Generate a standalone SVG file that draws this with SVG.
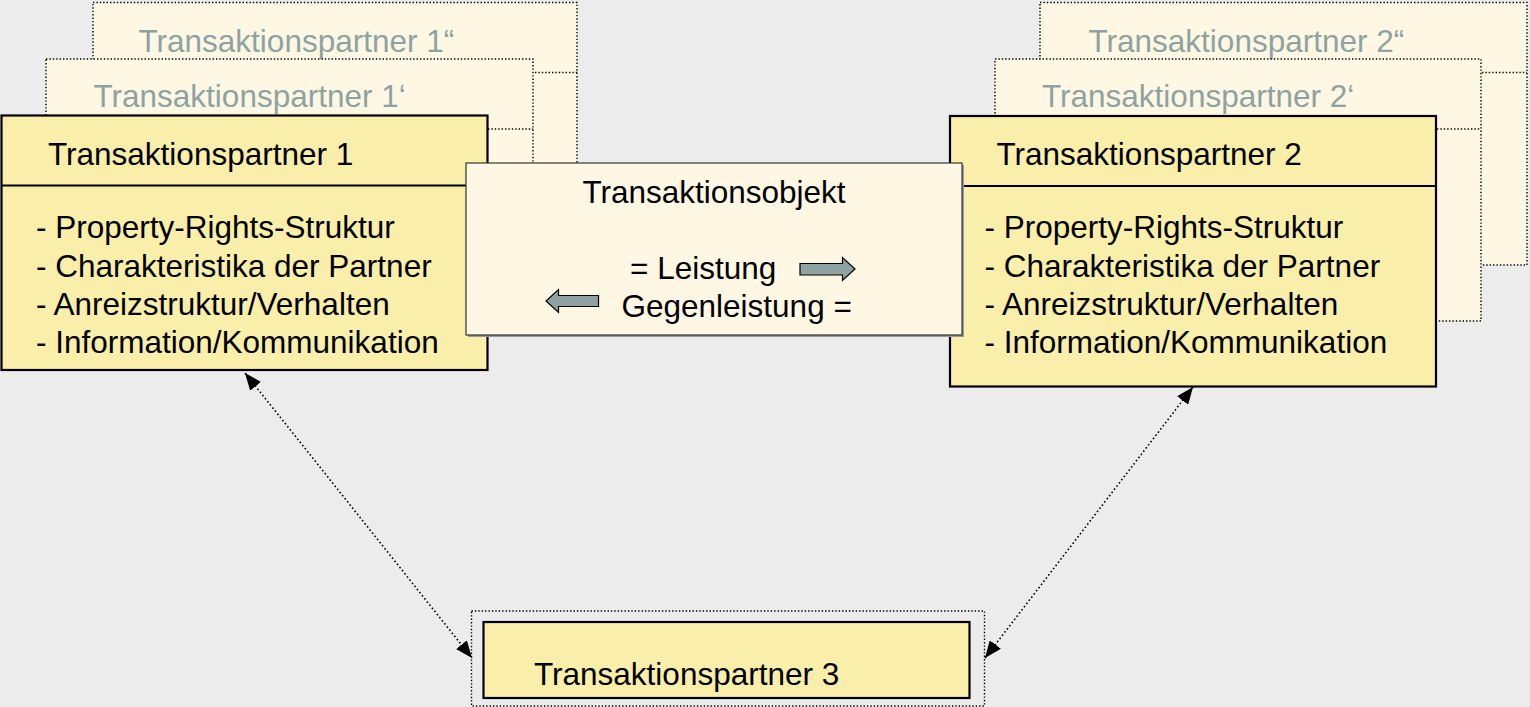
<svg xmlns="http://www.w3.org/2000/svg" width="1530" height="707" viewBox="0 0 1530 707">
<defs>
<style>
text{font-family:"Liberation Sans",Arial,sans-serif;font-size:31.5px;fill:#000}
.ghost{fill:#8EA3A1}
.back{fill:#FEF7E4;stroke:#000;stroke-width:1.4;stroke-dasharray:1.4 2}
.dot{fill:none;stroke:#000;stroke-width:1.4;stroke-dasharray:1.4 2}
.front{fill:#F9EEAA;stroke:#000;stroke-width:2.2}
.div{stroke:#000;stroke-width:2.2}
.obj{fill:#FEF7E4;stroke:#333;stroke-width:1.2}
.blk{fill:#8EA3A1;stroke:#000;stroke-width:1.2}
.conn{fill:none;stroke:#000;stroke-width:1.6;stroke-dasharray:1.6 2.4}
</style>
<marker id="ah" viewBox="0 0 17 14" refX="17" refY="7" markerWidth="17" markerHeight="14" markerUnits="userSpaceOnUse" orient="auto-start-reverse">
<path d="M0,0 L17,7 L0,14 z" fill="#000"/>
</marker>
</defs>
<rect width="1530" height="707" fill="#ECECEC"/>

<g id="partner1-2">
<rect class="back" x="93" y="2.5" width="484" height="262"/>
<line class="dot" x1="93" y1="72.5" x2="577" y2="72.5"/>
<text class="ghost" x="138.5" y="51.5">Transaktionspartner 1“</text>
</g>
<g id="partner1-1">
<rect class="back" x="46" y="59" width="487" height="262"/>
<line class="dot" x1="46" y1="129" x2="533" y2="129"/>
<text class="ghost" x="93.5" y="107">Transaktionspartner 1‘</text>
</g>
<g id="partner1">
<rect class="front" x="1.5" y="115.5" width="486" height="254.5"/>
<line class="div" x1="1.5" y1="185.5" x2="487.5" y2="185.5"/>
<text x="48" y="165">Transaktionspartner 1</text>
<text x="36" y="238">- Property-Rights-Struktur</text>
<text x="36" y="276.5">- Charakteristika der Partner</text>
<text x="36" y="315">- Anreizstruktur/Verhalten</text>
<text x="36" y="353">- Information/Kommunikation</text>
</g>

<g id="partner2-2">
<rect class="back" x="1040" y="2.5" width="487" height="262.5"/>
<line class="dot" x1="1040" y1="72.5" x2="1527" y2="72.5"/>
<text class="ghost" x="1088.5" y="51.5">Transaktionspartner 2“</text>
</g>
<g id="partner2-1">
<rect class="back" x="995" y="59" width="486" height="262"/>
<line class="dot" x1="995" y1="129" x2="1481" y2="129"/>
<text class="ghost" x="1042" y="107">Transaktionspartner 2‘</text>
</g>
<g id="partner2">
<rect class="front" x="950" y="116" width="486" height="270.5"/>
<line class="div" x1="950" y1="186" x2="1436" y2="186"/>
<text x="996.5" y="165">Transaktionspartner 2</text>
<text x="984.5" y="238">- Property-Rights-Struktur</text>
<text x="984.5" y="276.5">- Charakteristika der Partner</text>
<text x="984.5" y="315">- Anreizstruktur/Verhalten</text>
<text x="984.5" y="353">- Information/Kommunikation</text>
</g>

<g id="objekt">
<rect x="468" y="165" width="496" height="172" fill="#9A9A9A"/>
<rect class="obj" x="466" y="163" width="496" height="172"/>
<text x="714" y="203" text-anchor="middle">Transaktionsobjekt</text>
<text x="630" y="279">= Leistung</text>
<text x="621.5" y="316.5">Gegenleistung =</text>
<path class="blk" d="M800,263.5 L842.5,263.5 L842.5,257.5 L855,269 L842.5,280.5 L842.5,275 L800,275 z"/>
<path class="blk" d="M598.5,295.5 L558.5,295.5 L558.5,289.5 L546,301 L558.5,312.5 L558.5,306.5 L598.5,306.5 z"/>
</g>

<g id="partner3">
<rect class="dot" x="471.5" y="611" width="513" height="95"/>
<rect class="front" x="483.5" y="622" width="486" height="76"/>
<text x="534" y="685">Transaktionspartner 3</text>
</g>

<g id="connectors">
<line class="conn" x1="245" y1="373" x2="472" y2="658" marker-start="url(#ah)" marker-end="url(#ah)"/>
<line class="conn" x1="1193" y1="387" x2="985" y2="658" marker-start="url(#ah)" marker-end="url(#ah)"/>
</g>
</svg>
